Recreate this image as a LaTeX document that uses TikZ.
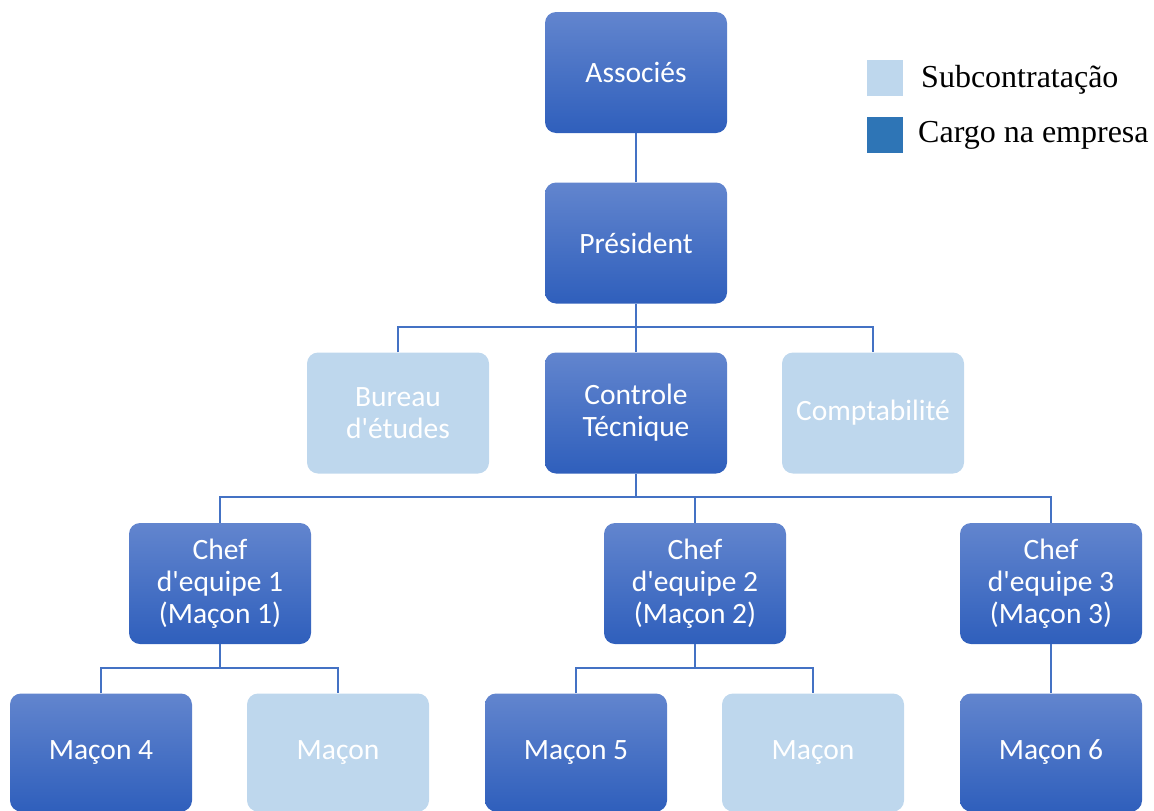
\documentclass[tikz,border=0pt]{standalone}
\usepackage{fontspec}
\setmainfont{Carlito}
\newfontfamily\legendfont{Liberation Serif}
\usetikzlibrary{shadings}
\definecolor{roletop}{RGB}{98,133,206}
\definecolor{rolebot}{RGB}{47,95,188}
\definecolor{subfill}{RGB}{190,215,237}
\definecolor{linkblue}{RGB}{68,114,196}
\definecolor{legenddark}{RGB}{46,117,182}
\newcommand{\apos}{\textquotesingle}
\tikzset{
  box/.style={rounded corners=11pt, minimum width=182pt, minimum height=121pt,
    inner sep=0pt, align=center, text=white,
    font=\fontsize{29.5}{32}\selectfont},
  role/.style={box, top color=roletop, bottom color=rolebot, draw=none},
  sub/.style={box, fill=subfill, draw=none},
  conn/.style={draw=linkblue, line width=1.3pt},
  swatch/.style={minimum width=36pt, minimum height=36pt, inner sep=0pt, draw=none},
  legendtext/.style={anchor=west, inner sep=0pt, font=\legendfont\fontsize{32}{36}\selectfont}
}
\begin{document}
\begin{tikzpicture}[x=1pt,y=-1pt]
\useasboundingbox (0,0) rectangle (1154,811);

% top of the chart
\node[role] (assoc) at (636,72.5) {Associés};
\node[role] (pres)  at (636,243)  {Président};

% second level
\node[sub]  (bureau) at (398,413) {Bureau\\d\apos études};
\node[role] (ctrl)   at (636,413) {Controle\\Técnique};
\node[sub]  (compta) at (873,413) {Comptabilité};

% team leaders
\node[role] (chef1) at (220,583.5)  {Chef\\d\apos equipe 1\\(Maçon 1)};
\node[role] (chef2) at (695,583.5)  {Chef\\d\apos equipe 2\\(Maçon 2)};
\node[role] (chef3) at (1051,583.5) {Chef\\d\apos equipe 3\\(Maçon 3)};

% masons
\node[role, minimum height=118pt] (m4)  at (101,752.5)  {Maçon 4};
\node[sub,  minimum height=118pt] (ma)  at (338,752.5)  {Maçon};
\node[role, minimum height=118pt] (m5)  at (576,752.5)  {Maçon 5};
\node[sub,  minimum height=118pt] (mb)  at (813,752.5)  {Maçon};
\node[role, minimum height=118pt] (m6)  at (1051,752.5) {Maçon 6};

% branching points
\coordinate (busP) at (636,327);
\coordinate (busC) at (636,497);
\coordinate (bus1) at (220,668);
\coordinate (bus2) at (695,668);

% connectors
\draw[conn] (assoc.south) -- (pres.north);
\draw[conn] (pres.south) -- (busP);
\draw[conn] (bureau.north) |- (busP) -| (compta.north);
\draw[conn] (busP) -- (ctrl.north);
\draw[conn] (ctrl.south) -- (busC);
\draw[conn] (chef1.north) |- (busC) -| (chef3.north);
\draw[conn] (busC) -| (chef2.north);
\draw[conn] (chef1.south) -- (bus1);
\draw[conn] (m4.north) |- (bus1) -| (ma.north);
\draw[conn] (chef2.south) -- (bus2);
\draw[conn] (m5.north) |- (bus2) -| (mb.north);
\draw[conn] (chef3.south) -- (m6.north);

% legend
\node[swatch, fill=subfill]    (swA) at (885,78)  {};
\node[swatch, fill=legenddark] (swB) at (885,134.5) {};
\node[legendtext] (lgA) at (921,80)  {Subcontratação};
\node[legendtext] (lgB) at (918,135) {Cargo na empresa};
\end{tikzpicture}
\end{document}
